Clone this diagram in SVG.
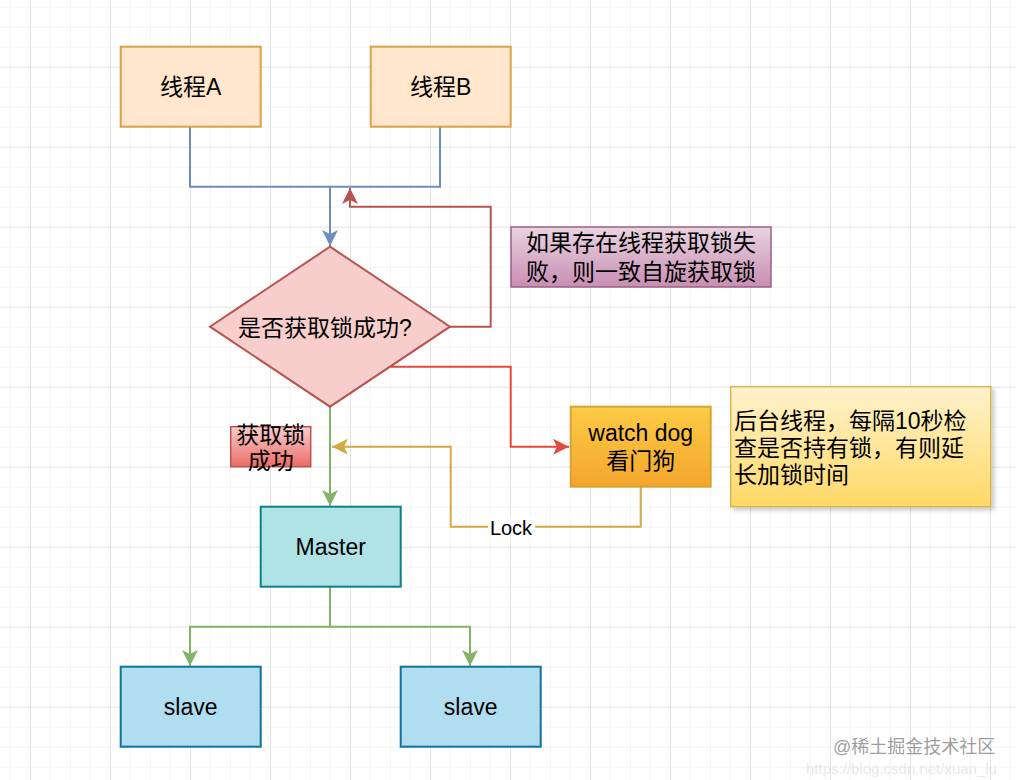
<svg xmlns="http://www.w3.org/2000/svg" width="1016" height="780" viewBox="0 0 1016 780">
<defs>
<pattern id="minor" x="10" y="6.7" width="20" height="20" patternUnits="userSpaceOnUse">
<path d="M0,0 H20 M0,0 V20" fill="none" stroke="#ececec" stroke-width="1"/>
</pattern>
<pattern id="major" x="30" y="66.7" width="80" height="80" patternUnits="userSpaceOnUse">
<path d="M0,0 H80 M0,0 V80" fill="none" stroke="#d4d4d4" stroke-width="1"/>
</pattern>
<linearGradient id="gDog" x1="0" y1="0" x2="0" y2="1"><stop offset="0" stop-color="#fccb45"/><stop offset="1" stop-color="#f4a62c"/></linearGradient>
<linearGradient id="gNote" x1="0" y1="0" x2="0" y2="1"><stop offset="0" stop-color="#fff2cc"/><stop offset="1" stop-color="#ffd966"/></linearGradient>
<linearGradient id="gPurple" x1="0" y1="0" x2="0" y2="1"><stop offset="0" stop-color="#e8d4e0"/><stop offset="1" stop-color="#c98db3"/></linearGradient>
<linearGradient id="gRed" x1="0" y1="0" x2="0" y2="1"><stop offset="0" stop-color="#f8cecc"/><stop offset="1" stop-color="#ea6b66"/></linearGradient>
<filter id="shadow" x="-10%" y="-10%" width="130%" height="140%">
<feDropShadow dx="3" dy="3" stdDeviation="2" flood-color="#000" flood-opacity="0.2"/>
</filter>
<marker id="aBlue" viewBox="0 0 16 16" refX="16" refY="8" markerWidth="16" markerHeight="16" markerUnits="userSpaceOnUse" orient="auto"><path d="M0,0 L16,8 L0,16 L4,8 Z" fill="#6c8ebf"/></marker>
<marker id="aBrown" viewBox="0 0 16 16" refX="16" refY="8" markerWidth="16" markerHeight="16" markerUnits="userSpaceOnUse" orient="auto"><path d="M0,0 L16,8 L0,16 L4,8 Z" fill="#b85450"/></marker>
<marker id="aRed" viewBox="0 0 16 16" refX="16" refY="8" markerWidth="16" markerHeight="16" markerUnits="userSpaceOnUse" orient="auto"><path d="M0,0 L16,8 L0,16 L4,8 Z" fill="#e5493d"/></marker>
<marker id="aGold" viewBox="0 0 16 16" refX="16" refY="8" markerWidth="16" markerHeight="16" markerUnits="userSpaceOnUse" orient="auto"><path d="M0,0 L16,8 L0,16 L4,8 Z" fill="#d4a843"/></marker>
<marker id="aGreen" viewBox="0 0 16 16" refX="16" refY="8" markerWidth="16" markerHeight="16" markerUnits="userSpaceOnUse" orient="auto"><path d="M0,0 L16,8 L0,16 L4,8 Z" fill="#82b366"/></marker>
</defs>
<style>
text{font-family:"Liberation Sans","Noto Sans CJK SC",sans-serif;font-size:23px;fill:#000;dominant-baseline:central}
.c{text-anchor:middle}
.conn path{fill:none;stroke-width:2}
.box{stroke-width:2}
</style>
<rect width="1016" height="780" fill="#fff"/>
<rect width="1016" height="780" fill="url(#minor)"/>
<rect width="1016" height="780" fill="url(#major)"/>

<g id="connectors" class="conn">
<path d="M190,127 V186.7 H440 V127" stroke="#6c8ebf"/>
<path d="M330,186.7 V246" stroke="#6c8ebf" marker-end="url(#aBlue)"/>
<path d="M450,326.7 H490.7 V206.7 H350 V188" stroke="#b85450" marker-end="url(#aBrown)"/>
<path d="M391,366.7 H510.7 V446.7 H569" stroke="#e5493d" marker-end="url(#aRed)"/>
<path d="M330,406.7 V506" stroke="#82b366" marker-end="url(#aGreen)"/>
<path d="M640.7,487 V526.7 H450.7 V446.7 H332" stroke="#d4a843" marker-end="url(#aGold)"/>
<path d="M330,587 V626.7 H190 V666" stroke="#82b366" marker-end="url(#aGreen)"/>
<path d="M330,626.7 H470 V666" stroke="#82b366" marker-end="url(#aGreen)"/>
<rect x="488" y="516" width="47" height="22" fill="#fff"/>
<text x="511" y="527.5" class="c" style="font-size:20px">Lock</text>
</g>

<g id="threadA"><rect class="box" x="120.7" y="46.7" width="140" height="80" fill="#ffe6cc" stroke="#d7a24a"/><text x="190.7" y="87" class="c">线程A</text></g>
<g id="threadB"><rect class="box" x="370.7" y="46.7" width="140" height="80" fill="#ffe6cc" stroke="#d7a24a"/><text x="440.7" y="87" class="c">线程B</text></g>
<g id="decision"><path class="box" d="M330,246.7 L450,326.7 L330,406.7 L210,326.7 Z" fill="#f8cecc" stroke="#b85450"/><text x="325" y="328" class="c">是否获取锁成功?</text></g>
<g id="spinNote"><rect x="511" y="227" width="260" height="60" fill="url(#gPurple)" stroke="#996185" stroke-width="1.5"/><text x="641" y="243" class="c">如果存在线程获取锁失</text><text x="641" y="272" class="c">败，则一致自旋获取锁</text></g>
<g id="successLabel"><rect x="230.7" y="426.7" width="80" height="40" fill="url(#gRed)" stroke="#b85450" stroke-width="1.5"/><text x="270.7" y="435" class="c">获取锁</text><text x="270.7" y="461" class="c">成功</text></g>
<g id="watchdog"><rect class="box" x="570.7" y="406.7" width="140" height="80" fill="url(#gDog)" stroke="#d6a33a"/><text x="640.7" y="433" class="c">watch dog</text><text x="640.7" y="461" class="c">看门狗</text></g>
<g id="watchdogNote"><rect x="730.7" y="386.7" width="260" height="120" fill="url(#gNote)" stroke="#d6b656" stroke-width="1.5" filter="url(#shadow)"/><text x="734" y="421">后台线程，每隔10秒检</text><text x="734" y="448">查是否持有锁，有则延</text><text x="734" y="475">长加锁时间</text></g>
<g id="master"><rect class="box" x="260.7" y="506.7" width="140" height="80" fill="#b0e3e6" stroke="#0e8088"/><text x="330.7" y="547" class="c">Master</text></g>
<g id="slave1"><rect class="box" x="120.7" y="666.7" width="140" height="80" fill="#b1ddf0" stroke="#10739e"/><text x="190.7" y="707" class="c">slave</text></g>
<g id="slave2"><rect class="box" x="400.7" y="666.7" width="140" height="80" fill="#b1ddf0" stroke="#10739e"/><text x="470.7" y="707" class="c">slave</text></g>

<g id="watermark">
<text x="833" y="747" style="font-size:18px;fill:#8c8c8c;fill-opacity:0.85">@稀土掘金技术社区</text>
<text x="806" y="768" style="font-size:15px;fill:#d8d8d8;fill-opacity:0.6">https://blog.csdn.net/xuan_lu</text>
</g>
</svg>
